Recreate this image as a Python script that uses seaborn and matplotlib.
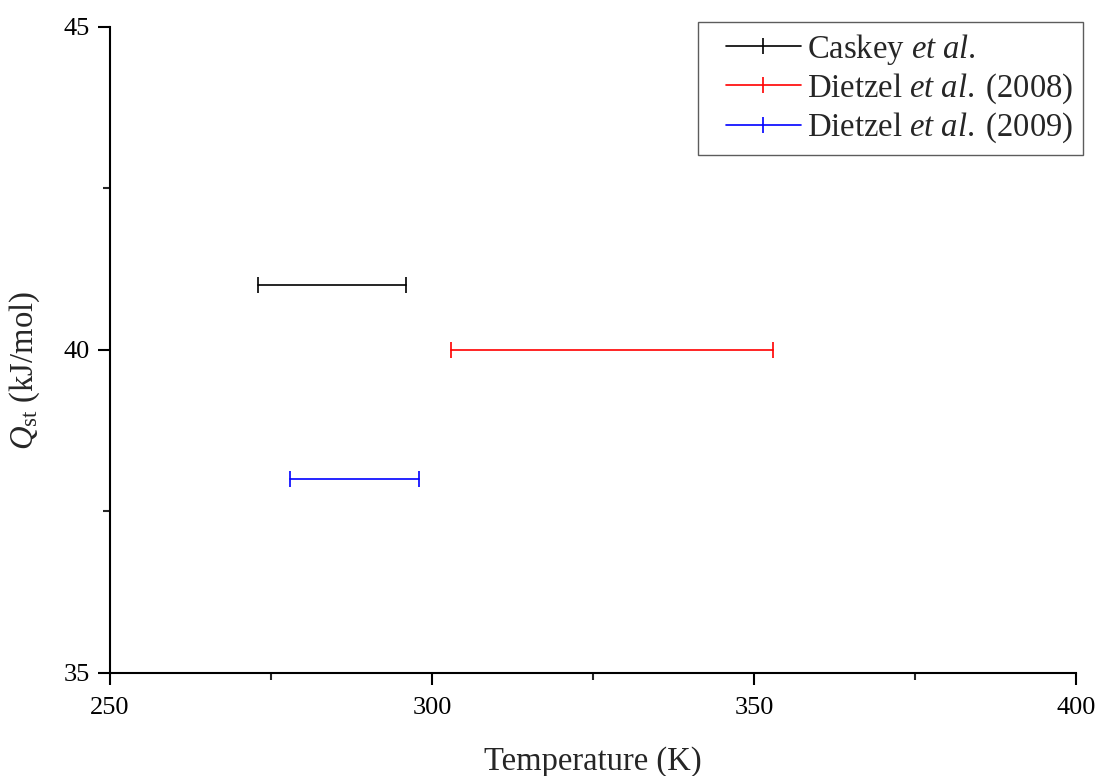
import matplotlib
matplotlib.use("Agg")
import matplotlib.pyplot as plt
import seaborn as sns
import pandas as pd
from matplotlib.ticker import MultipleLocator
from matplotlib.lines import Line2D
from matplotlib.legend_handler import HandlerLine2D

# Temperature ranges (K) and isosteric heats (kJ/mol) for each study
series = [r"Caskey $\it{et\ al.}$",
          r"Dietzel $\it{et\ al.}\;$(2008)",
          r"Dietzel $\it{et\ al.}\;$(2009)"]
t_min = [273, 303, 278]
t_max = [296, 353, 298]
q_st = [41, 40, 38]
colors = ["#000000", "#ff0000", "#0000ff"]

sns.set_theme(style="ticks")
plt.rcParams["font.family"] = ["Liberation Serif", "DejaVu Serif"]
plt.rcParams["mathtext.fontset"] = "custom"
plt.rcParams["mathtext.rm"] = "Liberation Serif"
plt.rcParams["mathtext.it"] = "Liberation Serif:italic"

rows = []
for name, lo, hi, q in zip(series, t_min, t_max, q_st):
    rows.append({"study": name, "T": lo, "Q": q})
    rows.append({"study": name, "T": hi, "Q": q})
df = pd.DataFrame(rows)

fig = plt.figure(figsize=(11.02, 7.76), dpi=100)
ax = fig.add_axes([110 / 1102, 1 - 673 / 776, 966 / 1102, 646 / 776])

sns.lineplot(data=df, x="T", y="Q", hue="study", palette=colors,
             hue_order=series, marker="|", markersize=11, markeredgewidth=1.2,
             linewidth=1.2, ax=ax, estimator=None, sort=False)
# range caps take the colour of their line
for ln in ax.lines:
    ln.set_markeredgecolor(ln.get_color())

ax.set_xlim(250, 400)
ax.set_ylim(35, 45)
ax.xaxis.set_major_locator(MultipleLocator(50))
ax.xaxis.set_minor_locator(MultipleLocator(25))
ax.yaxis.set_major_locator(MultipleLocator(5))
ax.yaxis.set_minor_locator(MultipleLocator(2.5))
ax.tick_params(which="major", direction="out", length=8.5, width=1.5,
               labelsize=19, colors="black")
ax.tick_params(which="minor", direction="out", length=5, width=1.5)
ax.tick_params(axis="x", which="major", pad=9)
ax.tick_params(axis="y", which="major", pad=6)
for side in ("left", "bottom"):
    ax.spines[side].set_linewidth(1.5)
    ax.spines[side].set_color("black")
sns.despine(ax=ax)

ax.set_xlabel("Temperature (K)", fontsize=23.5)
ax.set_ylabel(r"$Q_{\rm st}$ (kJ/mol)", fontsize=23.5)
ax.xaxis.set_label_coords(0.5, -0.114)
ax.yaxis.set_label_coords(-0.070, 0.4675)

handles, labels = ax.get_legend_handles_labels()
for h in handles:
    h.set_markeredgecolor(h.get_color())
    h.set_markersize(11)
leg = ax.legend(handles, labels, loc="upper right",
                bbox_to_anchor=(1.0075, 1.008), fontsize=23.5,
                frameon=True, fancybox=False, edgecolor="#333333",
                handlelength=2.85, handletextpad=0.2, borderpad=0.3,
                labelspacing=0.15, borderaxespad=0.0,
                handler_map={Line2D: HandlerLine2D(xpad=0.55)})
leg.get_frame().set_linewidth(1.0)

fig.savefig("out.png", dpi=100)
